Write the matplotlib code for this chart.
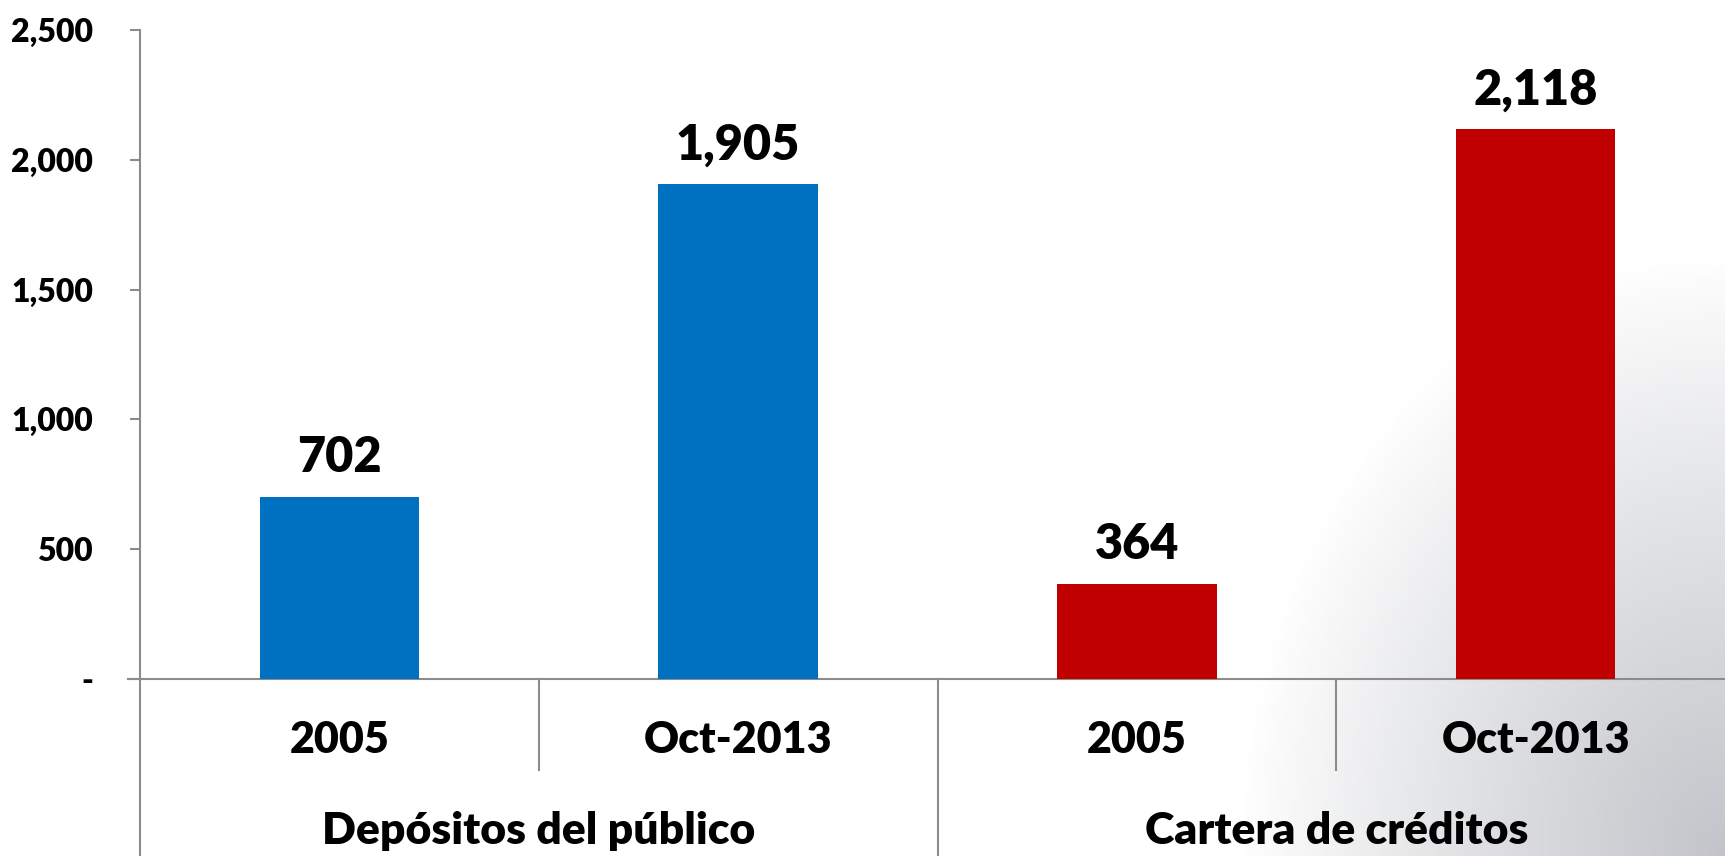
import matplotlib.pyplot as plt
import numpy as np
from matplotlib.ticker import FuncFormatter

groups = ['Depósitos del público', 'Cartera de créditos']
periods = ['2005', 'Oct-2013', '2005', 'Oct-2013']
values = [702, 1905, 364, 2118]
colors = ['#0070C0', '#0070C0', '#C00000', '#C00000']

plt.rcParams['font.family'] = ['Lato', 'DejaVu Sans']
plt.rcParams['font.weight'] = 'heavy'

fig = plt.figure(figsize=(17.25, 8.56), dpi=100)

# soft grey shading in the lower right corner (logo watermark area)
bg = fig.add_axes([0, 0, 1, 1], zorder=-1)
xx, yy = np.meshgrid(np.linspace(0, 1, 400), np.linspace(0, 1, 200))
d = np.sqrt(((1 - xx) / 0.28) ** 2 + (yy / 0.7) ** 2)
k = np.clip(1 - d, 0, 1) ** 0.9
img = np.ones((200, 400, 3))
for i, c in enumerate([0.76, 0.77, 0.79]):
    img[:, :, i] = 1 - (1 - c) * k
bg.imshow(img, origin='lower', extent=[0, 1, 0, 1], aspect='auto')
bg.axis('off')

ax = fig.add_axes([0.0812, 0.2068, 0.9246, 0.7582])
ax.set_facecolor('none')
x = np.arange(len(values))
ax.bar(x, values, width=0.4, color=colors, zorder=3)

ax.set_xlim(-0.5, 3.5)
ax.set_ylim(0, 2500)
ax.set_yticks(np.arange(0, 2501, 500))
ax.yaxis.set_major_formatter(FuncFormatter(lambda v, p: '-' if v == 0 else f'{v:,.0f}'))
ax.tick_params(axis='y', length=7, width=1.5, color='#8c8c8c', labelsize=23, pad=27)
for lbl in ax.get_yticklabels():
    lbl.set_fontweight('heavy')
ax.set_xticks([])

for s in ['top', 'right']:
    ax.spines[s].set_visible(False)
for s in ['left', 'bottom']:
    ax.spines[s].set_color('#8c8c8c')
    ax.spines[s].set_linewidth(1.5)

for xi, v in zip(x, values):
    ax.annotate(f'{v:,}', (xi, v), xytext=(0, 18), textcoords='offset points',
                ha='center', va='baseline', fontsize=35, fontweight='heavy')

tr = ax.get_xaxis_transform()
# separators of the two-level category axis
for xs, ylow in [(-0.5, -0.28), (0.5, -0.14), (1.5, -0.28), (2.5, -0.14), (3.5, -0.28)]:
    ax.plot([xs, xs], [0, ylow], color='#8c8c8c', lw=1.5, transform=tr, clip_on=False)
ax.plot([-0.53, -0.5], [0, 0], color='#8c8c8c', lw=1.5, transform=tr, clip_on=False)

for xi, p in zip(x, periods):
    ax.text(xi, -0.094, p, transform=tr, ha='center', va='center', fontsize=31, fontweight='heavy')
for gi, g in enumerate(groups):
    ax.text(gi * 2 + 0.5, -0.234, g, transform=tr, ha='center', va='center', fontsize=32, fontweight='heavy')

fig.savefig('out.png', dpi=100)
